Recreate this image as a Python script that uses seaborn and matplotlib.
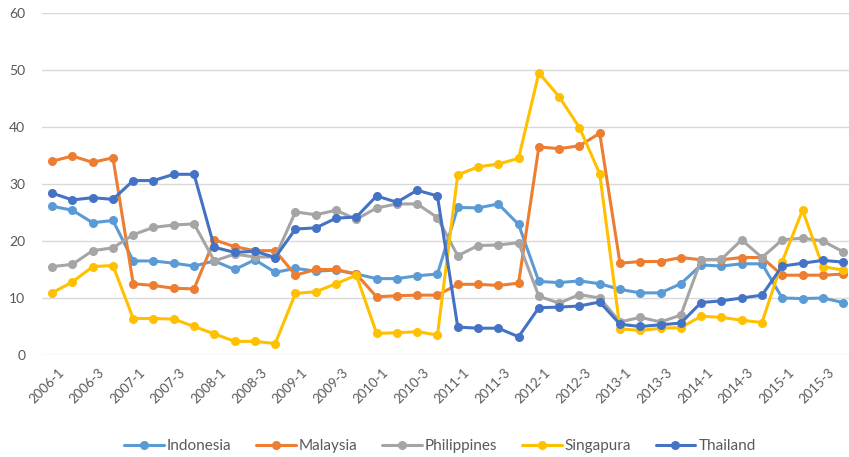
import numpy as np
import pandas as pd
import matplotlib
matplotlib.use('Agg')
import matplotlib.pyplot as plt
import matplotlib.transforms as mtransforms
import seaborn as sns

# ----------------------------------------------------
# dados
# ----------------------------------------------------
anos = list(range(2006, 2016))
trimestres = [1, 2, 3, 4]
periodos = [f"{a}-{t}" for a in anos for t in trimestres]

indonesia = [26.1, 25.4, 23.2, 23.6, 16.5, 16.5, 16.1, 15.6, 16.5, 15.0,
             16.7, 14.5, 15.2, 14.7, 14.9, 14.2, 13.4, 13.4, 13.9, 14.2,
             25.9, 25.8, 26.5, 22.9, 12.9, 12.7, 13.0, 12.5, 11.5, 10.9,
             10.9, 12.5, 15.8, 15.6, 16.0, 16.0, 10.0, 9.9, 10.0, 9.2]
malaysia = [34.0, 34.9, 33.8, 34.6, 12.5, 12.2, 11.7, 11.6, 20.2, 19.0,
            18.3, 18.3, 14.0, 15.0, 15.0, 14.2, 10.2, 10.4, 10.5, 10.5,
            12.4, 12.4, 12.2, 12.6, 36.5, 36.2, 36.7, 38.9, 16.1, 16.4,
            16.4, 17.1, 16.7, 16.7, 17.1, 17.1, 14.0, 14.0, 14.0, 14.2]
philippines = [15.5, 15.9, 18.3, 18.8, 21.1, 22.4, 22.8, 23.0, 16.5, 17.7,
               17.2, 17.2, 25.1, 24.6, 25.4, 23.8, 25.8, 26.5, 26.5, 24.1,
               17.4, 19.2, 19.3, 19.7, 10.3, 9.1, 10.6, 10.0, 5.8, 6.6,
               5.8, 7.0, 16.7, 16.8, 20.2, 17.1, 20.2, 20.5, 20.0, 18.1]
singapura = [10.9, 12.8, 15.5, 15.7, 6.4, 6.4, 6.3, 5.0, 3.7, 2.4,
             2.4, 2.0, 10.8, 11.1, 12.5, 14.0, 3.8, 3.9, 4.1, 3.5,
             31.6, 33.0, 33.5, 34.5, 49.5, 45.3, 39.9, 31.8, 4.6, 4.3,
             4.7, 4.8, 6.8, 6.6, 6.1, 5.7, 16.4, 25.4, 15.5, 14.9]
thailand = [28.4, 27.2, 27.6, 27.3, 30.6, 30.6, 31.7, 31.7, 18.9, 18.0,
            18.2, 17.1, 22.1, 22.3, 24.0, 24.2, 27.9, 26.8, 28.9, 27.9,
            4.9, 4.7, 4.7, 3.2, 8.3, 8.4, 8.6, 9.3, 5.4, 5.0,
            5.3, 5.6, 9.2, 9.5, 10.0, 10.5, 15.6, 16.1, 16.6, 16.3]

paises = ['Indonesia', 'Malaysia', 'Philippines', 'Singapura', 'Thailand']
cores = ['#5B9BD5', '#ED7D31', '#A5A5A5', '#FFC000', '#4472C4']

df = pd.DataFrame({
    'Indonesia': indonesia,
    'Malaysia': malaysia,
    'Philippines': philippines,
    'Singapura': singapura,
    'Thailand': thailand,
})
df['idx'] = np.arange(len(periodos))
df_long = df.melt(id_vars='idx', var_name='pais', value_name='valor')

# ----------------------------------------------------
# grafico
# ----------------------------------------------------
sns.set_style('white')
plt.rcParams['font.family'] = ['Lato', 'DejaVu Sans']
cinza = '#595959'

fig = plt.figure(figsize=(8.49, 4.57), dpi=100)
ax = fig.add_axes([0.0494, 0.2232, 0.9556, 0.7484])

sns.lineplot(data=df_long, x='idx', y='valor', hue='pais', hue_order=paises,
             palette=cores, marker='o', markersize=6.5, markeredgewidth=0,
             linewidth=2.2, ax=ax, legend=False)

ax.set_xlim(-0.5, 39.5)
ax.set_ylim(0, 60)
ax.set_yticks(range(0, 61, 10))
ax.set_xticks(range(0, 40, 2))
ax.set_xticklabels(periodos[::2], rotation=45, ha='right',
                   rotation_mode='anchor')
ax.tick_params(axis='x', length=0, pad=8, labelsize=9.5, labelcolor=cinza)
ax.tick_params(axis='y', length=0, pad=12, labelsize=10, labelcolor=cinza)
# desloca um pouco os rotulos do eixo x para a direita
desloc = mtransforms.ScaledTranslation(4 / 72, 0, fig.dpi_scale_trans)
for lbl in ax.get_xticklabels():
    lbl.set_transform(lbl.get_transform() + desloc)
ax.set_xlabel('')
ax.set_ylabel('')
ax.yaxis.grid(True, color='#D9D9D9', linewidth=1)
ax.set_axisbelow(True)
for s in ax.spines.values():
    s.set_visible(False)

# legenda
handles = [plt.Line2D([], [], color=c, linewidth=2.2, marker='o',
                      markersize=6.5, markeredgewidth=0) for c in cores]
fig.legend(handles, paises, loc='center', bbox_to_anchor=(440 / 849, 1 - 446 / 457),
           ncol=5, frameon=False, fontsize=11, labelcolor=cinza,
           handlelength=2.6, handletextpad=0.2, columnspacing=1.6)

fig.savefig('out.png', dpi=100)
